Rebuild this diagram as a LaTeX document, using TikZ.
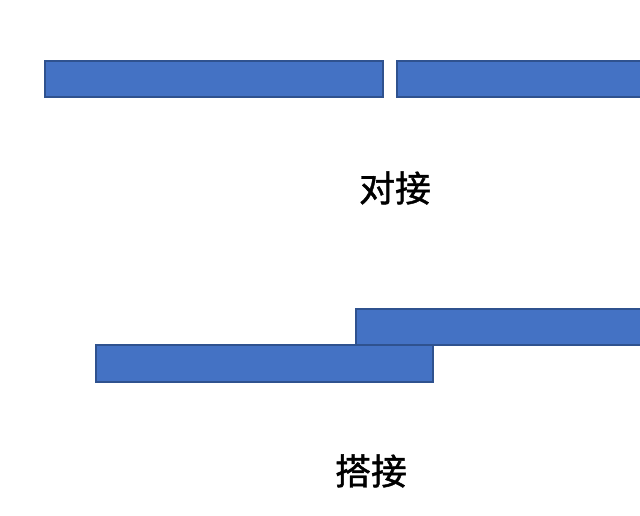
\documentclass[tikz,border=0pt]{standalone}
\usepackage{fontspec}
\newfontfamily\cjk[FakeBold=1.2]{Noto Sans CJK SC}
\definecolor{barfill}{HTML}{4472C4}
\definecolor{barline}{HTML}{2F528F}
\tikzset{every picture/.style={line width=0.75pt}}
\tikzset{bar/.style={draw=barline, fill=barfill, line width=1.2pt},
  caption/.style={inner sep=0.75pt, font=\cjk\fontsize{27}{32}\selectfont}}

\begin{document}
\begin{tikzpicture}[x=0.75pt,y=0.75pt,yscale=-1,xscale=1]
\useasboundingbox (0,0) rectangle (640,516);
\fill[white] (0,0) rectangle (640,516);

%Butt joint
\draw [bar] (45,61) rectangle (383,97) ;
\draw [bar] (397,61) rectangle (648,97) ;
% Text Node
\node [caption] (butt) at (395,188) {对接};

%Lap joint
\draw [bar] (356,309) rectangle (648,345) ;
\draw [bar] (96,345) rectangle (433,382) ;
% Text Node
\node [caption] (lap) at (371,471) {搭接};

\end{tikzpicture}
\end{document}
